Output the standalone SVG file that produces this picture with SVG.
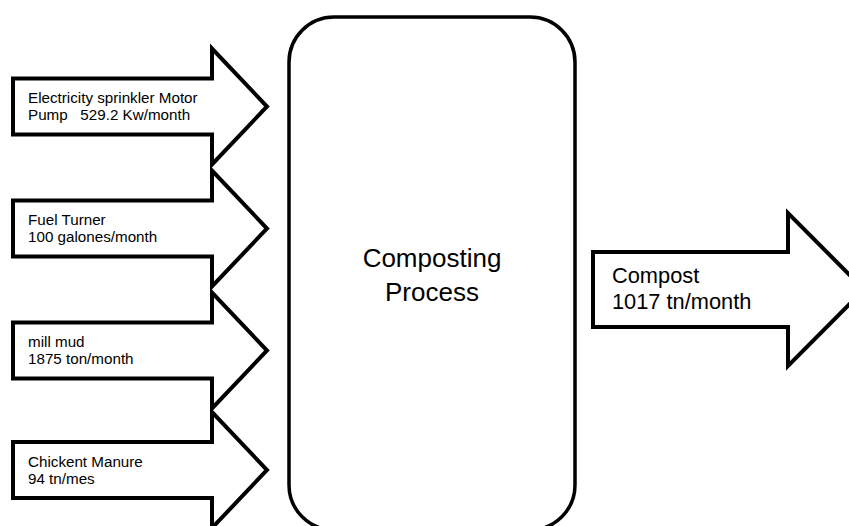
<svg xmlns="http://www.w3.org/2000/svg" width="849" height="526" viewBox="0 0 849 526">
<style>
.shape{fill:#fff;stroke:#000;stroke-width:4;stroke-linejoin:miter}
.box{fill:#fff;stroke:#000;stroke-width:3.5}
.t{font-family:"Liberation Sans",Arial,sans-serif;fill:#000;white-space:pre}
.s{font-size:15.2px}
.m{font-size:21.8px}
.l{font-size:26px}
</style>
<rect width="849" height="526" fill="#fff"/>
<g id="connectors">
<g id="in-electricity">
<path class="shape" d="M13,78.5 H212 V48.5 L267,106.5 L212,164.5 V134.5 H13 Z"/>
<text class="t s" x="28" y="103">Electricity sprinkler Motor</text>
<text class="t s" x="28" y="120">Pump   529.2 Kw/month</text>
</g>
<g id="in-fuel">
<path class="shape" d="M13,200.5 H212 V170.5 L267,228.5 L212,286.5 V256.5 H13 Z"/>
<text class="t s" x="28" y="225">Fuel Turner</text>
<text class="t s" x="28" y="242">100 galones/month</text>
</g>
<g id="in-millmud">
<path class="shape" d="M13,322.5 H212 V292.5 L267,350.5 L212,408.5 V378.5 H13 Z"/>
<text class="t s" x="28" y="347">mill mud</text>
<text class="t s" x="28" y="364">1875 ton/month</text>
</g>
<g id="in-manure">
<path class="shape" d="M13,442 H212 V412 L267,470 L212,528 V498 H13 Z"/>
<text class="t s" x="28" y="466.5">Chickent Manure</text>
<text class="t s" x="28" y="483.5">94 tn/mes</text>
</g>
<g id="out-compost">
<path class="shape" d="M593,252 H788 V213 L864,289.5 L788,366 V327 H593 Z"/>
<text class="t m" x="612" y="283">Compost</text>
<text class="t m" x="612" y="309">1017 tn/month</text>
</g>
</g>
<g id="process">
<rect class="box" x="289" y="17" width="286" height="513" rx="45" ry="45"/>
<text class="t l" x="432" y="267" text-anchor="middle">Composting</text>
<text class="t l" x="432" y="301" text-anchor="middle">Process</text>
</g>
</svg>
